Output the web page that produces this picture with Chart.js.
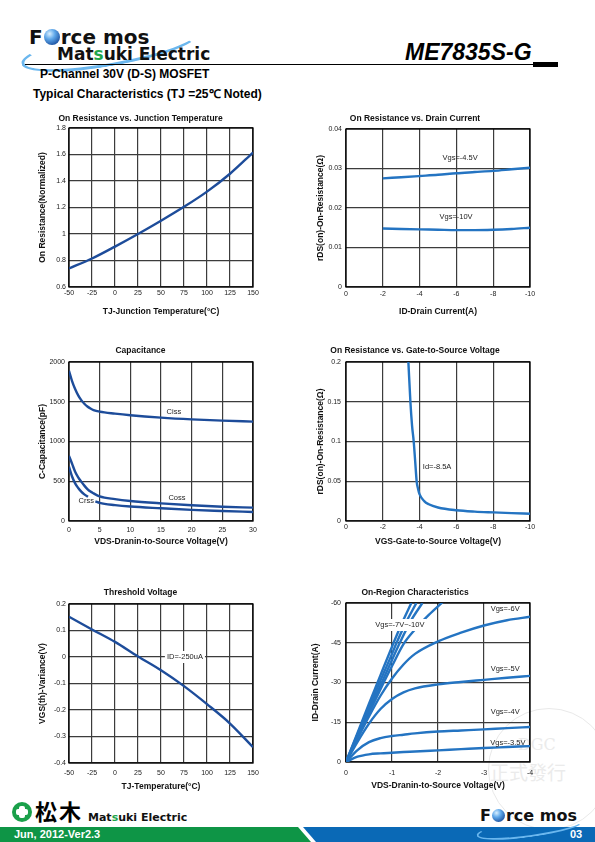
<!DOCTYPE html>
<html><head><meta charset="utf-8">
<script src="https://cdn.jsdelivr.net/npm/chart.js@4.4.1/dist/chart.umd.min.js"></script>
<style>
html,body{margin:0;padding:0;background:#fff;}
body{width:595px;height:842px;position:relative;overflow:hidden;font-family:"Liberation Sans",Arial,sans-serif;}
.abs{position:absolute;white-space:nowrap;line-height:1;}
canvas{position:absolute;}
.ball{display:inline-block;border-radius:50%;background:radial-gradient(circle at 35% 30%,#d8efff 0%,#5fa8ea 35%,#1b4f9e 80%);}
.gs{color:#1fa64a;}
</style></head><body>

<!-- header -->
<div class="abs" style="left:20px;top:30px;width:175px;height:30px;border:3px solid #6bb7ee;border-top-color:transparent;border-right-color:transparent;border-radius:50%;transform:rotate(-10deg);"></div>
<div class="abs" style="left:29px;top:27px;font-family:'DejaVu Sans';font-weight:bold;font-size:20px;color:#111;">F<span class="ball" style="width:16px;height:16px;vertical-align:-1px;margin:0 1px;"></span>rce mos</div>
<div class="abs" style="left:57px;top:46px;font-family:'DejaVu Sans';font-weight:bold;font-size:17px;color:#111;">Mat<span class="gs">s</span>uki Electric</div>
<div class="abs" style="left:405px;top:41px;font-weight:bold;font-style:italic;font-size:23px;color:#000;">ME7835S-G</div>
<div class="abs" style="left:25px;top:64px;width:510px;height:1px;background:#000;"></div>
<div class="abs" style="left:533px;top:62px;width:25px;height:5px;background:#000;"></div>
<div class="abs" style="left:40px;top:68px;font-weight:bold;font-size:12px;color:#000;">P-Channel 30V (D-S) MOSFET</div>
<div class="abs" style="left:33px;top:88px;font-weight:bold;font-size:12px;color:#000;">Typical Characteristics (TJ =25℃ Noted)</div>

<!-- watermark stamp -->
<div class="abs" style="left:488px;top:708px;width:120px;height:120px;border:1.5px solid #e9e9e9;border-radius:50%;"></div>
<div class="abs" style="left:518px;top:737px;font-family:'DejaVu Serif';font-size:16px;color:#ebebeb;">DGC</div>
<div class="abs" style="left:490px;top:762px;font-family:'Noto Sans CJK TC';font-size:19px;color:#ebebeb;">正式發行</div>

<!-- footer -->
<div class="abs" style="left:0;top:827px;width:312px;height:15px;background:#0e9546;clip-path:polygon(0 0,298px 0,311px 100%,0 100%);"></div>
<div class="abs" style="left:300px;top:827px;width:295px;height:15px;background:#0a69b6;clip-path:polygon(3px 0,100% 0,100% 100%,16px 100%);"></div>
<div class="abs" style="left:14px;top:829px;font-family:'Liberation Sans Narrow','Liberation Sans';font-weight:bold;font-size:11px;color:#fff;">Jun, 2012-Ver2.3</div>
<div class="abs" style="left:570px;top:829px;font-family:'Liberation Sans Narrow','Liberation Sans';font-weight:bold;font-size:11px;color:#fff;">03</div>
<div class="abs" style="left:12px;top:802px;width:20px;height:20px;border-radius:50%;background:#1aa04a;"></div>
<div class="abs" style="left:19px;top:806px;width:6px;height:12px;background:#fff;border-radius:2px;"></div>
<div class="abs" style="left:16px;top:809px;width:12px;height:6px;background:#fff;border-radius:2px;"></div>
<div class="abs" style="left:35px;top:799px;font-family:'Noto Sans CJK JP';font-weight:bold;font-size:22px;color:#000;letter-spacing:2px;">松木</div>
<div class="abs" style="left:88px;top:812px;font-family:'DejaVu Sans';font-weight:bold;font-size:11px;color:#111;">Mat<span class="gs">s</span>uki Electric</div>
<div class="abs" style="left:476px;top:819px;width:105px;height:14px;border:2px solid #6bb7ee;border-top-color:transparent;border-right-color:transparent;border-radius:50%;transform:rotate(-8deg);"></div>
<div class="abs" style="left:480px;top:808px;font-family:'DejaVu Sans';font-weight:bold;font-size:16px;color:#111;">F<span class="ball" style="width:13px;height:13px;vertical-align:-1px;margin:0 1px;"></span>rce mos</div>

<script>
// ---------- DATA ----------
// 1. On Resistance vs. Junction Temperature
const tjTemp = [-50, -25, 0, 25, 50, 75, 100, 125, 150];
const ronNormalized = [0.74, 0.815, 0.905, 1.0, 1.1, 1.205, 1.32, 1.455, 1.615];
const tempTicks = [-50, -25, 0, 25, 50, 75, 100, 125, 150];
const ronNormTicks = [0.6, 0.8, 1, 1.2, 1.4, 1.6, 1.8];

// 2. On Resistance vs. Drain Current
const drainCurrent = [-2, -3, -4, -5, -6, -7, -8, -9, -10];
const rdsVgs45 = [0.0275, 0.0278, 0.0281, 0.0284, 0.0288, 0.0291, 0.0294, 0.0298, 0.0302];
const rdsVgs10 = [0.0148, 0.0147, 0.0146, 0.0145, 0.0144, 0.0144, 0.0145, 0.0147, 0.0150];
const idTicks = [0, -2, -4, -6, -8, -10];
const rds1Ticks = [0, 0.01, 0.02, 0.03, 0.04];

// 3. Capacitance
const vdsCap = [0, 0.5, 1, 1.5, 2, 2.5, 3, 3.5, 4, 5, 7.5, 10, 15, 20, 25, 30];
const ciss = [1890, 1760, 1660, 1580, 1520, 1475, 1440, 1415, 1395, 1375, 1350, 1330, 1300, 1278, 1262, 1250];
const coss = [820, 720, 620, 550, 495, 445, 402, 370, 348, 310, 275, 252, 222, 198, 180, 168];
const crssVds = [0, 0.5, 1, 1.5, 2, 2.5, 3.1, 3.7, 4.3, 5, 7.5, 10, 15, 20, 25, 30];
const crss = [683, 560, 474, 415, 369, 335, 305, null, 248, 228, 200, 182, 160, 140, 126, 113];
const capVdsTicks = [0, 5, 10, 15, 20, 25, 30];
const capTicks = [0, 500, 1000, 1500, 2000];

// 4. On Resistance vs. Gate-to-Source Voltage
const vgsSweep = [-3.39, -3.5, -3.59, -3.68, -3.76, -3.84, -3.92, -4, -4.25, -4.5, -5, -6, -7, -8, -9, -10];
const ronVsVgs = [0.2, 0.15, 0.12, 0.1, 0.075, 0.05, 0.04, 0.0335, 0.025, 0.021, 0.017, 0.0135, 0.0118, 0.0108, 0.0099, 0.0092];
const vgsTicks = [0, -2, -4, -6, -8, -10];
const rds2Ticks = [0, 0.05, 0.1, 0.15, 0.2];

// 5. Threshold Voltage
const vthVariance = [0.152, 0.104, 0.057, 0.002, -0.05, -0.11, -0.178, -0.251, -0.34];
const vthTicks = [-0.4, -0.3, -0.2, -0.1, 0, 0.1, 0.2];

// 6. On-Region Characteristics
const vdsGrid = [0, -0.25, -0.5, -0.75, -1, -1.25, -1.5, -2, -2.5, -3, -3.5, -4];
const idVgs35 = [0, -2, -2.9, -3.25, -3.5, -3.75, -3.95, -4.4, -4.85, -5.3, -5.65, -6.0];
const idVgs4 = [0, -4.5, -7.5, -9, -9.8, -10.3, -10.8, -11.5, -11.9, -12.3, -12.8, -13.2];
const idVgs5 = [0, -7.6, -14.5, -20, -23.8, -26.3, -27.8, -29.3, -30.2, -31, -31.8, -32.5];
const idVgs6 = [0, -8.8, -17.2, -25, -31.5, -36.8, -40.8, -45.5, -48.8, -51.5, -53.5, -54.8];
const vdsVgs7 = [0, -0.25, -0.5, -0.75, -1, -1.25, -1.5, -1.8, -2.1];
const idVgs7 = [0, -9.3, -18.5, -27.5, -36.2, -44.5, -50, -55.5, -60.3];
const vdsVgs8 = [0, -0.25, -0.5, -0.75, -1, -1.17, -1.4, -1.66];
const idVgs8 = [0, -9.9, -19.6, -29, -38.5, -45, -53, -60];
const vdsVgs9 = [0, -0.25, -0.5, -0.75, -1, -1.1, -1.3, -1.53];
const idVgs9 = [0, -10.5, -20.8, -30.8, -40.8, -45, -52.5, -60];
const vdsVgs10 = [0, -0.25, -0.5, -0.75, -1, -1.2, -1.42];
const idVgs10 = [0, -11, -22, -32.8, -43.5, -51.8, -60];
const onVdsTicks = [0, -1, -2, -3, -4];
const onIdTicks = [-60, -45, -30, -15, 0];

// ---------- HELPERS ----------
const FONT = '"Liberation Sans", Arial, sans-serif';
Chart.defaults.font.family = FONT;
const TS = 8.5, LH = 1.2, TH = TS * LH;
const GRID = '#3c3c3c';
const NAVY = '#1d4c9a', BLUE = '#2474c2';
const fmt = v => String(+Number(v).toFixed(6));
const pts = (xs, ys) => xs.map((x, i) => ({x: x, y: ys[i]}));
const line = (xs, ys, color) => ({data: pts(xs, ys), borderColor: color, borderWidth: 2.4, pointRadius: 0,
  cubicInterpolationMode: 'monotone', spanGaps: false, fill: false});

const framePlugin = {id: 'frame', beforeDatasetsDraw(chart) {
  const {ctx, chartArea: a} = chart;
  ctx.save(); ctx.strokeStyle = '#000'; ctx.lineWidth = 1.3;
  ctx.strokeRect(a.left, a.top, a.right - a.left, a.bottom - a.top); ctx.restore();
}};
const labelPlugin = {id: 'txt', afterDatasetsDraw(chart, args, opts) {
  const {ctx, scales: {x, y}} = chart;
  (opts.items || []).forEach(it => {
    const px = x.getPixelForValue(it.x), py = y.getPixelForValue(it.y);
    ctx.save();
    ctx.font = '7.5px ' + FONT; ctx.textAlign = 'center'; ctx.textBaseline = 'middle';
    if (it.bg) { const w = ctx.measureText(it.text).width + 4; ctx.fillStyle = '#fff'; ctx.fillRect(px - w / 2, py - 6, w, 12); }
    ctx.fillStyle = '#222'; ctx.fillText(it.text, px, py);
    ctx.restore();
  });
}};

function makeChart(c) {
  const cv = document.createElement('canvas');
  cv.width = c.box.w; cv.height = c.box.h;
  cv.style.left = c.box.l + 'px'; cv.style.top = c.box.t + 'px';
  cv.style.width = c.box.w + 'px'; cv.style.height = c.box.h + 'px';
  document.body.appendChild(cv);
  const tTop = c.titleY - c.box.t - TH / 2;
  const tBot = (c.area.t - c.box.t) - TH - tTop;
  const axisCommon = (ax) => ({
    type: 'linear', min: ax.min, max: ax.max, reverse: !!ax.reverse,
    afterBuildTicks: s => { s.ticks = ax.ticks.map(v => ({value: v})); },
    ticks: {padding: ax.pad, font: {size: 7, lineHeight: 1.2}, color: '#222', maxRotation: 0, minRotation: 0,
      autoSkip: false, callback: v => fmt(v)},
    grid: {color: GRID, lineWidth: 1.2, drawTicks: false},
    border: {display: false},
  });
  const xs = axisCommon(c.x);
  xs.afterFit = s => { s.height = c.box.t + c.box.h - c.area.b; };
  xs.title = {display: true, text: c.xTitle, color: '#111', font: {size: TS, weight: 'bold', lineHeight: LH},
    padding: {top: 0, bottom: c.box.t + c.box.h - c.xTitleY - TH / 2}};
  const ys = axisCommon(c.y);
  ys.afterFit = s => { s.width = c.area.l - c.box.l; };
  ys.title = {display: true, text: c.yTitle, color: '#111', font: {size: TS, weight: 'bold', lineHeight: LH},
    padding: {top: c.yTitleX - c.box.l - TH / 2, bottom: 0}};
  new Chart(cv, {
    type: 'line',
    data: {datasets: c.datasets},
    options: {
      responsive: false, animation: false, devicePixelRatio: 1,
      layout: {padding: {left: 0, top: 0, bottom: 0, right: c.box.l + c.box.w - c.area.r}},
      plugins: {
        legend: {display: false}, tooltip: {enabled: false},
        title: {display: true, text: c.title, color: '#111', font: {size: TS, weight: 'bold', lineHeight: LH},
          padding: {top: tTop, bottom: tBot}},
        txt: {items: c.labels || []}
      },
      scales: {x: xs, y: ys}
    },
    plugins: [framePlugin, labelPlugin]
  });
}

// ---------- CHARTS ----------
makeChart({
  box: {l: 28, t: 110, w: 237, h: 212}, area: {l: 69, t: 128, r: 253, b: 287},
  title: 'On Resistance vs. Junction Temperature', titleY: 118.5,
  yTitle: 'On Resistance(Normalized)', yTitleX: 43,
  xTitle: 'TJ-Junction Temperature(°C)', xTitleY: 312,
  x: {min: -50, max: 150, ticks: tempTicks, pad: 2.1},
  y: {min: 0.6, max: 1.8, ticks: ronNormTicks, pad: 3},
  datasets: [line(tjTemp, ronNormalized, NAVY)]
});

makeChart({
  box: {l: 300, t: 110, w: 245, h: 212}, area: {l: 346, t: 129, r: 530, b: 287},
  title: 'On Resistance vs. Drain Current', titleY: 118.5,
  yTitle: 'rDS(on)-On-Resistance(Ω)', yTitleX: 321,
  xTitle: 'ID-Drain Current(A)', xTitleY: 312,
  x: {min: -10, max: 0, reverse: true, ticks: idTicks, pad: 3.1},
  y: {min: 0, max: 0.04, ticks: rds1Ticks, pad: 4},
  datasets: [line(drainCurrent, rdsVgs45, BLUE), line(drainCurrent, rdsVgs10, BLUE)],
  labels: [{x: -6.2, y: 0.0327, text: 'Vgs=-4.5V'}, {x: -5.98, y: 0.0177, text: 'Vgs=-10V'}]
});

makeChart({
  box: {l: 28, t: 340, w: 237, h: 212}, area: {l: 69, t: 362, r: 253, b: 521},
  title: 'Capacitance', titleY: 351,
  yTitle: 'C-Capacitance(pF)', yTitleX: 43,
  xTitle: 'VDS-Dranin-to-Source Voltage(V)', xTitleY: 542,
  x: {min: 0, max: 30, ticks: capVdsTicks, pad: 4.8},
  y: {min: 0, max: 2000, ticks: capTicks, pad: 4},
  datasets: [line(vdsCap, ciss, NAVY), line(vdsCap, coss, NAVY), line(crssVds, crss, NAVY)],
  labels: [{x: 17.1, y: 1371, text: 'Ciss'}, {x: 17.6, y: 289, text: 'Coss'}, {x: 2.8, y: 252, text: 'Crss'}]
});

makeChart({
  box: {l: 300, t: 340, w: 245, h: 212}, area: {l: 346, t: 362, r: 530, b: 521},
  title: 'On Resistance vs. Gate-to-Source Voltage', titleY: 351,
  yTitle: 'rDS(on)-On-Resistance(Ω)', yTitleX: 321,
  xTitle: 'VGS-Gate-to-Source Voltage(V)', xTitleY: 542,
  x: {min: -10, max: 0, reverse: true, ticks: vgsTicks, pad: 2.1},
  y: {min: 0, max: 0.2, ticks: rds2Ticks, pad: 5},
  datasets: [line(vgsSweep, ronVsVgs, BLUE)],
  labels: [{x: -4.95, y: 0.068, text: 'Id=-8.5A'}]
});

makeChart({
  box: {l: 28, t: 580, w: 237, h: 217}, area: {l: 69, t: 604, r: 253, b: 763},
  title: 'Threshold Voltage', titleY: 593,
  yTitle: 'VGS(th)-Variance(V)', yTitleX: 43,
  xTitle: 'TJ-Temperature(°C)', xTitleY: 787,
  x: {min: -50, max: 150, ticks: tempTicks, pad: 5.8},
  y: {min: -0.4, max: 0.2, ticks: vthTicks, pad: 3},
  datasets: [line(tjTemp, vthVariance, NAVY)],
  labels: [{x: 76, y: 0, text: 'ID=-250uA', bg: true}]
});

makeChart({
  box: {l: 300, t: 580, w: 245, h: 217}, area: {l: 346, t: 603, r: 530, b: 762},
  title: 'On-Region Characteristics', titleY: 593,
  yTitle: 'ID-Drain Current(A)', yTitleX: 316,
  xTitle: 'VDS-Dranin-to-Source Voltage(V)', xTitleY: 786,
  x: {min: -4, max: 0, reverse: true, ticks: onVdsTicks, pad: 6.8},
  y: {min: -60, max: 0, reverse: true, ticks: onIdTicks, pad: 5},
  datasets: [
    line(vdsGrid, idVgs35, BLUE), line(vdsGrid, idVgs4, BLUE), line(vdsGrid, idVgs5, BLUE), line(vdsGrid, idVgs6, BLUE),
    line(vdsVgs7, idVgs7, BLUE), line(vdsVgs8, idVgs8, BLUE), line(vdsVgs9, idVgs9, BLUE), line(vdsVgs10, idVgs10, BLUE)
  ],
  labels: [
    {x: -1.17, y: -51.7, text: 'Vgs=-7V~-10V', bg: true},
    {x: -3.46, y: -57.7, text: 'Vgs=-6V'}, {x: -3.46, y: -35.1, text: 'Vgs=-5V'},
    {x: -3.46, y: -18.9, text: 'Vgs=-4V'}, {x: -3.52, y: -7.2, text: 'Vgs=-3.5V'}
  ]
});
</script>
</body></html>
